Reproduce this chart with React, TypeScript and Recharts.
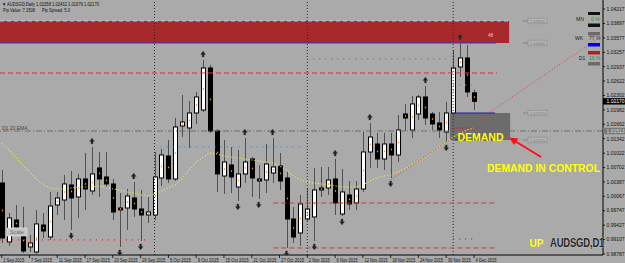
import React from "react";
import {
  ComposedChart,
  Bar,
  Line,
  Scatter,
  XAxis,
  YAxis,
  ReferenceArea,
  ReferenceLine,
  ReferenceDot,
} from "recharts";

const dateLabels = [
  "1 Sep 2015", "7 Sep 2015", "11 Sep 2015", "17 Sep 2015", "23 Sep 2015", "29 Sep 2015",
  "5 Oct 2015", "9 Oct 2015", "15 Oct 2015", "21 Oct 2015", "27 Oct 2015", "2 Nov 2015",
  "6 Nov 2015", "12 Nov 2015", "18 Nov 2015", "24 Nov 2015", "30 Nov 2015", "4 Dec 2015",
];
const dateTickBars = [0, 4, 8, 12, 16, 20, 24, 28, 32, 36, 40, 44, 48, 52, 56, 60, 64, 68];

// daily AUDSGD, 1 Sep 2015 .. 4 Dec 2015
const opens = [
  1.00361, 0.99054, 0.99541, 0.9932, 0.98943, 0.98832, 0.9943, 0.99165, 0.99874, 0.99984,
  1.00317, 1.00051, 1.0045, 1.00184, 1.00694, 1.00494, 1.00339, 0.99807, 0.99807, 1.00029,
  0.99785, 0.99652, 0.99652, 1.00472, 1.00959, 1.0045, 1.01624, 1.0158, 1.01912, 1.01979,
  1.0291, 1.01513, 1.00516, 1.0076, 1.00272, 1.00561, 1.00893, 1.0045, 1.00428, 1.00583,
  1.00738, 1.00472, 0.99563, 0.99253, 0.99563, 0.99608, 1.0025, 1.0025, 1.0045, 0.99674,
  1.00095, 0.99918, 1.00228, 1.01048, 1.01225, 1.00893, 1.01225, 1.00981, 1.0189, 1.01536,
  1.0189, 1.02267, 1.0189, 1.01691, 1.01491, 1.01912, 1.02932, 1.03131, 1.02358,
];
const highs = [
  1.00649, 0.99696, 0.99873, 0.9983, 0.99209, 0.99763, 0.99696, 1.00162, 1.00162, 1.00538,
  1.00627, 1.00561, 1.01026, 1.01159, 1.01048, 1.01048, 1.0045, 1.00139, 1.00228, 1.00383,
  1.00206, 1.00051, 1.01048, 1.01114, 1.01314, 1.01802, 1.02311, 1.02178, 1.02378, 1.03087,
  1.02976, 1.01558, 1.01314, 1.01159, 1.01092, 1.01358, 1.00937, 1.0076, 1.01225, 1.01358,
  1.01026, 1.00605, 0.99829, 1.00095, 1.0025, 1.00694, 1.00716, 1.00716, 1.00893, 1.00671,
  1.00405, 1.00405, 1.01491, 1.01691, 1.01469, 1.01469, 1.01469, 1.01868, 1.02112, 1.02289,
  1.02311, 1.02511, 1.01934, 1.01934, 1.02156, 1.03308, 1.03464, 1.03419, 1.02432,
];
const lows = [
  0.99031, 0.98965, 0.99253, 0.9881, 0.98832, 0.98788, 0.99142, 0.99098, 0.99652, 0.99541,
  0.9932, 0.99585, 0.99763, 1.00095, 1.00051, 1.0025, 0.99541, 0.98943, 0.9932, 0.99608,
  0.99076, 0.99475, 0.99541, 1.00294, 1.00361, 1.00405, 1.01381, 1.01137, 1.01669, 1.01934,
  1.01469, 1.00162, 1.00117, 1.00139, 0.99962, 1.00361, 1.00051, 1.00007, 1.00139, 1.00361,
  1.00206, 0.98921, 0.99031, 0.98965, 0.99519, 0.99076, 1.00051, 1.00095, 0.99652, 0.9963,
  0.99763, 0.99763, 1.00162, 1.00694, 1.00694, 1.00649, 1.00472, 1.00826, 1.01513, 1.01358,
  1.01757, 1.01646, 1.01536, 1.01358, 1.0127, 1.01868, 1.0271, 1.02267, 1.01976,
];
const closes = [
  0.99142, 0.99585, 0.99386, 0.98854, 0.99032, 0.99453, 0.99297, 0.99851, 1.00029, 1.00339,
  1.00029, 1.0045, 1.00228, 1.00561, 1.0045, 1.00339, 0.99718, 0.99763, 1.00073, 0.99785,
  0.99652, 0.99718, 1.00494, 1.00981, 1.0045, 1.01602, 1.01713, 1.01912, 1.02267, 1.0291,
  1.01513, 1.00561, 1.00826, 1.00494, 1.00561, 1.00826, 1.00472, 1.00405, 1.00782, 1.00716,
  1.00405, 0.99563, 0.99164, 0.99896, 0.99785, 1.00206, 1.00206, 1.00428, 0.99918, 1.00162,
  0.99896, 1.00228, 1.01048, 1.0138, 1.00893, 1.01225, 1.00981, 1.01536, 1.01801, 1.02112,
  1.02267, 1.01801, 1.01669, 1.01536, 1.01912, 1.02909, 1.03131, 1.02378, 1.0217,
];
const ema20 = [
  1.01248, 1.01092, 1.00937, 1.0076, 1.00605, 1.0045, 1.00317, 1.0025, 1.00228, 1.00228,
  1.0025, 1.00272, 1.00272, 1.00272, 1.00295, 1.00272, 1.00228, 1.00206, 1.00162, 1.00139,
  1.00095, 1.00073, 1.00117, 1.00184, 1.0025, 1.00317, 1.00472, 1.00649, 1.00826, 1.00937,
  1.01026, 1.01004, 1.00959, 1.00937, 1.00915, 1.00893, 1.00871, 1.00849, 1.00826, 1.00804,
  1.00738, 1.00649, 1.00516, 1.00428, 1.00383, 1.00361, 1.00339, 1.00317, 1.00295, 1.00272,
  1.00272, 1.00272, 1.00317, 1.00405, 1.00472, 1.00516, 1.00538, 1.00605, 1.00671, 1.0076,
  1.00849, 1.00937, 1.01048, 1.01159, 1.0127, 1.0138, 1.01469, 1.01536, 1.0158,
];
const priceTicks = [
  1.04217, 1.03897, 1.03577, 1.03257, 1.02937, 1.02622, 1.02302, 1.01982, 1.01662,
  1.01342, 1.01022, 1.00702, 1.00387, 1.00067, 0.99747, 0.99427, 0.99107, 0.98787,
];
const upFractalBars = [13, 19, 29, 35, 39, 48, 53, 61, 66];
const downFractalBars = [10, 17, 20, 34, 37, 41, 45, 49, 56, 64];
const monthStartBars = [22, 44, 65];

const X_MIN = -0.245;
const X_MAX = 86.57;
const Y_MIN = 0.98765;
const Y_MAX = 1.04416;

const supplyTop = 1.03951;
const supplyBottom = 1.03464;
const supplyFrom = X_MIN;
const supplyTo = 73.05;
const demandTop = 1.01912;
const demandBottom = 1.01314;
const demandFrom = 64.55;
const demandTo = 73.2;
const demandMid = 1.0158;
const emaLevel = 1.01513;
const lastPrice = 1.0217;

const srLevels = [
  { p: 1.02799, from: X_MIN, to: 71.3 },
  { p: 0.99918, from: 39.1, to: 71.3 },
  { p: 0.98921, from: 39.1, to: 71.0 },
];
const monthHighs = [
  { p: 1.01159, from: 22, to: 43.3 },
  { p: 1.03109, from: 44, to: 64.7 },
  { p: 1.02533, from: 65, to: 68.3 },
];
const monthLows = [
  { p: 0.99098, from: X_MIN, to: 21 },
  { p: 0.9912, from: 65, to: 68.3 },
];
const trendLine = [
  { i: 56, p: 1.00428 },
  { i: 86.57, p: 1.03641 },
];

const bars = opens.map((o, i) => ({ i, o, h: highs[i], l: lows[i], c: closes[i], ema: ema20[i] }));
const upFractals = upFractalBars.map((i) => ({ i, p: highs[i] }));
const downFractals = downFractalBars.map((i) => ({ i, p: lows[i] }));

const FONT = "'Liberation Sans', Arial, sans-serif";

function Candle(props: any) {
  const { x, y, width, height, payload } = props;
  const { o, h, l, c } = payload;
  const top0 = Math.min(y, y + height);
  const hh = Math.abs(height);
  const py = (p: number) => top0 + ((h - p) / (h - l)) * hh;
  const cx = Math.round(x + width / 2) + 0.5;
  const bTop = py(Math.max(o, c));
  const bBot = py(Math.min(o, c));
  const bull = c >= o;
  const bh = Math.max(bBot - bTop, 1);
  return (
    <g>
      <line x1={cx} x2={cx} y1={top0} y2={top0 + hh} stroke="#505050" strokeWidth={1} />
      <rect x={cx - 2} y={bTop} width={4} height={bh} fill={bull ? "#ffffff" : "#000000"} stroke="#000" strokeWidth={1} />
      <rect x={cx - 0.6} y={bTop + bh / 2 - 0.8} width={1.2} height={1.6} fill="#ff9a00" />
    </g>
  );
}

function UpArrow(props: any) {
  const { cx, cy } = props;
  const t = cy - 9;
  return (
    <path
      d={`M${cx},${t} L${cx - 2.5},${t + 3.5} L${cx - 1},${t + 3.5} L${cx - 1},${t + 6} L${cx + 1},${t + 6} L${cx + 1},${t + 3.5} L${cx + 2.5},${t + 3.5} Z`}
      fill="#1e1e1e"
      stroke="#555"
      strokeWidth={0.4}
    />
  );
}

function DownArrow(props: any) {
  const { cx, cy } = props;
  const b = cy + 9;
  return (
    <path
      d={`M${cx},${b} L${cx - 2.5},${b - 3.5} L${cx - 1},${b - 3.5} L${cx - 1},${b - 6} L${cx + 1},${b - 6} L${cx + 1},${b - 3.5} L${cx + 2.5},${b - 3.5} Z`}
      fill="#1e1e1e"
      stroke="#555"
      strokeWidth={0.4}
    />
  );
}

function DateTick(props: any) {
  const { x, payload } = props;
  const k = dateTickBars.indexOf(payload.value);
  const label = dateLabels[k];
  return (
    <g>
      <line x1={x} x2={x} y1={255} y2={258} stroke="#000" strokeWidth={0.8} />
      <text
        x={x + 1.5}
        y={261.5}
        fontSize={4.6}
        fill="#111"
        fontFamily={FONT}
        textLength={label.length * 2.1}
        lengthAdjust="spacingAndGlyphs"
      >
        {label}
      </text>
    </g>
  );
}

function PriceTick(props: any) {
  const { y, payload } = props;
  return (
    <g>
      <line x1={603} x2={605} y1={y} y2={y} stroke="#000" strokeWidth={0.8} />
      <text x={606.5} y={y + 1.8} fontSize={5} fill="#111" fontFamily={FONT}>
        {payload.value.toFixed(5)}
      </text>
    </g>
  );
}

function ZoneTag(text: string) {
  return (props: any) => {
    const { cx, cy } = props;
    return (
      <g>
        <line x1={cx - 5} x2={cx} y1={cy} y2={cy} stroke="#7a7a7a" strokeWidth={0.8} />
        <rect x={cx} y={cy - 2.8} width={19} height={5.6} fill="#b4b4b4" stroke="#8a8a8a" strokeWidth={0.6} />
        <text x={cx + 9.5} y={cy + 1.7} fontSize={4.3} fill="#7a7a7a" textAnchor="middle" fontFamily={FONT}>
          {text}
        </text>
      </g>
    );
  };
}

function AxisBox(text: string, fill: string, color: string) {
  return (props: any) => {
    const { cx, cy } = props;
    return (
      <g>
        <rect x={cx} y={cy - 3.2} width={22} height={6.4} fill={fill} />
        <text x={cx + 3.5} y={cy + 1.8} fontSize={5} fill={color} fontFamily={FONT}>
          {text}
        </text>
      </g>
    );
  };
}

function Overlay() {
  return (
    <svg width={625} height={263} style={{ position: "absolute", left: 0, top: 0, pointerEvents: "none" }} fontFamily={FONT}>
      <text x={2} y={5.6} fontSize={4.8} fill="#111" textLength={97} lengthAdjust="spacingAndGlyphs">
        ▼ AUDSGD,Daily  1.02358 1.02432 1.01976 1.02170
      </text>
      <text x={3} y={12.2} fontSize={4.8} fill="#111" textLength={32} lengthAdjust="spacingAndGlyphs">Pip Value: 7.1508</text>
      <text x={42} y={12.2} fontSize={4.8} fill="#111" textLength={28} lengthAdjust="spacingAndGlyphs">Pip Spread: 5.0</text>

      <text x={488} y={37} fontSize={4.5} fill="#f4c8c8">48</text>

      {/* right strength panel */}
      <rect x={588} y={12} width={12} height={3} fill="#111" />
      <text x={576} y={21} fontSize={5} fill="#222">MN</text>
      <text x={591} y={21} fontSize={5} fill="#2e8b3a">0 %</text>
      <rect x={588} y={23.5} width={12} height={3.5} fill="#111" />
      <rect x={588} y={32} width={12} height={3.5} fill="#6a6a6a" />
      <text x={575} y={40} fontSize={5} fill="#222">WK</text>
      <text x={589} y={40} fontSize={5} fill="#333">77 %</text>
      <rect x={588} y={43} width={12} height={3.5} fill="#0000ff" />
      <rect x={588} y={51} width={12} height={3.5} fill="#b02020" />
      <text x={579} y={60} fontSize={5} fill="#222">D1</text>
      <text x={589} y={60} fontSize={5} fill="#2e8b3a">16 %</text>
      <rect x={588} y={62} width={12} height={3.5} fill="#6a6a6a" />

      <text x={2} y={129.5} fontSize={5} fill="#444">D1 20 EMA</text>

      <text x={480.5} y={140.5} fontSize={10.5} fontWeight="bold" fill="#ffff00" textAnchor="middle">DEMAND</text>
      <text x={487} y={171.5} fontSize={10.5} fontWeight="bold" fill="#ffff00" textLength={113} lengthAdjust="spacingAndGlyphs">
        DEMAND IN CONTROL
      </text>
      <line x1={541} y1={157} x2={514} y2={140.5} stroke="#ff1010" strokeWidth={2} />
      <path d="M509,137.5 L518.5,138.5 L514,145 Z" fill="#ff1010" />

      <text x={529.5} y={247} fontSize={10} fontWeight="bold" fill="#ffff00">UP</text>
      <g transform="translate(550,247) scale(1,1.25)">
        <text
          x={0}
          y={0}
          fontSize={9.5}
          fontWeight="bold"
          fill="#2a2a2a"
          stroke="#cfcfcf"
          strokeWidth={0.5}
          paintOrder="stroke"
          letterSpacing={-0.2}
        >
          AUDSGD,D1
        </text>
      </g>

      <rect x={7} y={228} width={20} height={8} fill="#c4c4c4" stroke="#e6e6e6" strokeWidth={0.6} />
      <text x={17} y={234} fontSize={5.5} fill="#6a6a6a" textAnchor="middle">Scale</text>
    </svg>
  );
}

export default function App() {
  return (
    <div style={{ position: "absolute", left: 0, top: 0, width: 625, height: 263, background: "#aaaaaa" }}>
      <ComposedChart width={625} height={263} data={bars} margin={{ top: 0, right: 0, bottom: 0, left: 0 }}>
        <XAxis
          dataKey="i"
          type="number"
          domain={[X_MIN, X_MAX]}
          allowDataOverflow
          ticks={dateTickBars}
          interval={0}
          height={8}
          tickLine={false}
          axisLine={{ stroke: "#000" }}
          tick={(p: any) => <DateTick {...p} />}
        />
        <YAxis
          orientation="right"
          type="number"
          domain={[Y_MIN, Y_MAX]}
          allowDataOverflow
          ticks={priceTicks}
          interval={0}
          width={22}
          tickLine={false}
          axisLine={{ stroke: "#000" }}
          tick={(p: any) => <PriceTick {...p} />}
        />

        <ReferenceArea x1={supplyFrom} x2={supplyTo} y1={supplyBottom} y2={supplyTop} fill="#a8292b" fillOpacity={1} stroke="none" ifOverflow="visible" />
        <ReferenceArea x1={demandFrom} x2={demandTo} y1={demandBottom} y2={demandTop} fill="#6c6c6c" fillOpacity={1} stroke="none" />

        {monthStartBars.map((m) => (
          <ReferenceLine key={`sep-${m}`} x={m} stroke="#2a2a2a" strokeDasharray="1 2" />
        ))}

        <ReferenceLine segment={[{ x: supplyFrom, y: supplyTop }, { x: supplyTo, y: supplyTop }]} stroke="#a9d2f0" strokeDasharray="4 3" />
        <ReferenceLine segment={[{ x: supplyFrom, y: supplyBottom }, { x: 71.2, y: supplyBottom }]} stroke="#5a2c9e" strokeWidth={1.2} />
        <ReferenceLine segment={[{ x: 65.2, y: demandTop }, { x: 71.0, y: demandTop }]} stroke="#1e1ea0" strokeWidth={1.2} />
        <ReferenceLine segment={[{ x: 65.2, y: demandBottom }, { x: 71.0, y: demandBottom }]} stroke="#1e1ea0" strokeWidth={1.2} />
        <ReferenceLine segment={[{ x: 65.0, y: demandMid }, { x: 68.6, y: demandMid }]} stroke="#c03030" strokeDasharray="2 1" />

        {srLevels.map((s, k) => (
          <ReferenceLine key={`sr-${k}`} segment={[{ x: s.from, y: s.p }, { x: s.to, y: s.p }]} stroke="#d03a3a" strokeDasharray="5 3" />
        ))}
        {monthHighs.map((s, k) => (
          <ReferenceLine key={`mh-${k}`} segment={[{ x: s.from, y: s.p }, { x: s.to, y: s.p }]} stroke="#3a8ee0" strokeDasharray="1 5" strokeWidth={1.3} />
        ))}
        {monthLows.map((s, k) => (
          <ReferenceLine key={`ml-${k}`} segment={[{ x: s.from, y: s.p }, { x: s.to, y: s.p }]} stroke="#e02a2a" strokeDasharray="1 5" strokeWidth={1.3} />
        ))}

        <ReferenceLine y={emaLevel} stroke="#6e6e6e" strokeDasharray="6 2 1 2" />

        <Line
          dataKey="ema"
          type="linear"
          stroke="#f0f03c"
          strokeWidth={1.2}
          strokeDasharray="1 2"
          dot={false}
          activeDot={false}
          isAnimationActive={false}
        />
        <Line
          data={trendLine}
          dataKey="p"
          type="linear"
          stroke="#e03c3c"
          strokeWidth={1}
          strokeDasharray="1 2"
          dot={false}
          activeDot={false}
          isAnimationActive={false}
        />

        <Bar dataKey={(d: any) => [d.l, d.h]} barSize={5} shape={(p: any) => <Candle {...p} />} activeBar={false} isAnimationActive={false} />

        <Scatter data={upFractals} dataKey="p" shape={(p: any) => <UpArrow {...p} />} isAnimationActive={false} />
        <Scatter data={downFractals} dataKey="p" shape={(p: any) => <DownArrow {...p} />} isAnimationActive={false} />

        <ReferenceDot x={75.77} y={supplyTop} r={0} ifOverflow="visible" shape={ZoneTag("1.03950")} />
        <ReferenceDot x={75.77} y={supplyBottom} r={0} ifOverflow="visible" shape={ZoneTag("1.03460")} />
        <ReferenceDot x={75.77} y={demandTop} r={0} ifOverflow="visible" shape={ZoneTag("1.01910")} />
        <ReferenceDot x={75.77} y={demandBottom} r={0} ifOverflow="visible" shape={ZoneTag("1.01315")} />

        <ReferenceDot x={X_MAX} y={lastPrice} r={0} ifOverflow="visible" shape={AxisBox("1.02170", "#000", "#fff")} />
        <ReferenceDot x={X_MAX} y={emaLevel} r={0} ifOverflow="visible" shape={AxisBox("1.01513", "#777", "#ddd")} />
      </ComposedChart>
      <Overlay />
    </div>
  );
}
